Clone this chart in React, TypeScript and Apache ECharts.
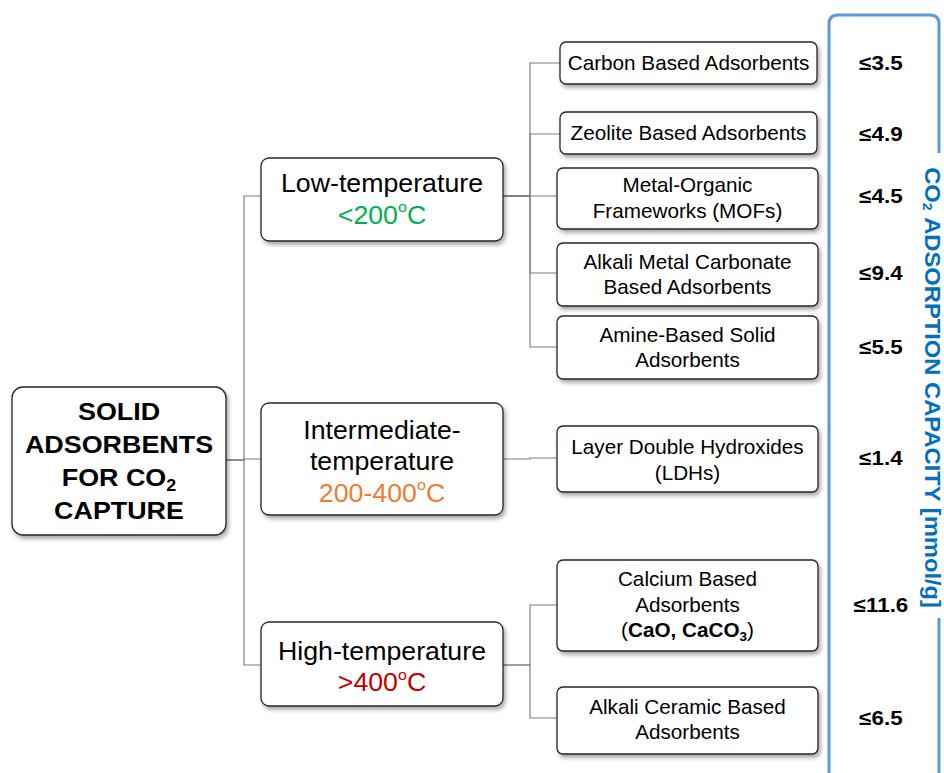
import React, { useEffect, useRef } from 'react';
import * as echarts from 'echarts';

// ---------------- data ----------------
const rootLabel = 'SOLID\nADSORBENTS\nFOR CO₂\nCAPTURE';
const temperatureClasses = ['Low-temperature', 'Intermediate-\ntemperature', 'High-temperature'];
const temperatureRanges = ['<200ºC', '200-400ºC', '>400ºC'];
const rangeColors = ['#00B050', '#ED7D31', '#C00000'];
const adsorbentTypes = [
  'Carbon Based Adsorbents',
  'Zeolite Based Adsorbents',
  'Metal-Organic\nFrameworks (MOFs)',
  'Alkali Metal Carbonate\nBased Adsorbents',
  'Amine-Based Solid\nAdsorbents',
  'Layer Double Hydroxides\n(LDHs)',
  'Calcium Based\nAdsorbents\n(*CaO, CaCO₃*)',
  'Alkali Ceramic Based\nAdsorbents',
];
const adsorbentClass = [0, 0, 0, 0, 0, 1, 2, 2];
const capacityMax = [3.5, 4.9, 4.5, 9.4, 5.5, 1.4, 11.6, 6.5];
const capacityTitle = 'CO₂ ADSORPTION CAPACITY [mmol/g]';

// ---------------- layout ----------------
const W = 944;
const H = 773;
const FONT = '"Liberation Sans", Arial, sans-serif';
const rootBox = [12, 387, 214, 148];
const rootAnchorY = 460;
const rootTextY = 461;
const classBoxes = [
  [261, 158, 242, 83],
  [261, 403, 242, 112],
  [261, 622, 242, 84],
];
const classAnchorY = [196, 459, 665];
const classTextY = [199.5, 461.5, 667];
const typeBoxes = [
  [560, 42, 257, 42],
  [560, 112, 257, 42],
  [557, 168, 261, 61],
  [557, 243, 261, 63],
  [557, 316, 261, 63],
  [557, 426, 261, 66],
  [557, 560, 261, 91],
  [557, 687, 261, 67],
];
const typeAnchorY = [63, 134, 196, 273, 347, 458, 605, 718];
const typeTextY = [63, 133, 198, 274.5, 347.5, 460, 605, 719.5];
const rootBusX = 244;
const classBusX = 530;
const valueX = 881;

// ---------------- helpers ----------------
function richify(line: string, p: string): string {
  let out = '';
  let bold = false;
  let cur = '';
  let curKey = '';
  const flush = () => {
    if (cur) out += `{${curKey}|${cur}}`;
    cur = '';
  };
  for (const ch of Array.from(line)) {
    if (ch === '*') {
      flush();
      bold = !bold;
      continue;
    }
    let key: string;
    let c = ch;
    if (ch === '₂' || ch === '₃') {
      key = bold ? 'bs' : 's';
      c = ch === '₂' ? '2' : '3';
    } else if (ch === 'º') {
      key = 'p';
      c = 'o';
    } else {
      key = bold ? 'b' : 'n';
    }
    key = p + key;
    if (key !== curKey) {
      flush();
      curKey = key;
    }
    cur += c;
  }
  flush();
  return out;
}

function richText(text: string, p: string): string {
  return text.split('\n').map((l) => richify(l, p)).join('\n');
}

function richSet(
  p: string,
  o: { size: number; lh: number; color: string; weight: string; subSize: number; subLH: number; supSize: number; supLH: number }
) {
  const base = { fontFamily: FONT, fill: o.color, color: o.color, fontSize: o.size, lineHeight: o.lh, fontWeight: o.weight };
  return {
    [p + 'n']: { ...base },
    [p + 'b']: { ...base, fontWeight: 'bold' },
    [p + 's']: { ...base, fontSize: o.subSize, lineHeight: o.subLH, verticalAlign: 'bottom' },
    [p + 'bs']: { ...base, fontWeight: 'bold', fontSize: o.subSize, lineHeight: o.subLH, verticalAlign: 'bottom' },
    [p + 'p']: { ...base, fontSize: o.supSize, lineHeight: o.supLH, verticalAlign: 'top' },
  };
}

type NodeDef = { box: number[]; r: number; textY: number; text: string; rich: any; sx: number };

const nodes: NodeDef[] = [];
nodes.push({
  box: rootBox,
  r: 11,
  textY: rootTextY,
  text: richText(rootLabel, 'r'),
  rich: richSet('r', { size: 24, lh: 33, color: '#000', weight: 'bold', subSize: 16, subLH: 16, supSize: 14, supLH: 14 }),
  sx: 1.12,
});
temperatureClasses.forEach((name, i) => {
  nodes.push({
    box: classBoxes[i],
    r: 8,
    textY: classTextY[i],
    text: richText(name, 'a') + '\n' + richText(temperatureRanges[i], 'c'),
    rich: {
      ...richSet('a', { size: 25, lh: 31.5, color: '#000', weight: 'normal', subSize: 15, subLH: 15, supSize: 15, supLH: 21 }),
      ...richSet('c', { size: 25, lh: 31.5, color: rangeColors[i], weight: 'normal', subSize: 15, subLH: 15, supSize: 15, supLH: 21 }),
    },
    sx: 1.07,
  });
});
adsorbentTypes.forEach((name, j) => {
  nodes.push({
    box: typeBoxes[j],
    r: 6,
    textY: typeTextY[j],
    text: richText(name, 't'),
    rich: richSet('t', { size: 20, lh: 25.5, color: '#000', weight: 'normal', subSize: 13, subLH: 11, supSize: 13, supLH: 16 }),
    sx: 1.035,
  });
});

// edges: [parentNodeIndex, childNodeIndex]
const edges: number[][] = [];
temperatureClasses.forEach((_, i) => edges.push([0, 1 + i]));
adsorbentClass.forEach((c, j) => edges.push([1 + c, 4 + j]));

function anchorOf(idx: number): number {
  if (idx === 0) return rootAnchorY;
  if (idx <= 3) return classAnchorY[idx - 1];
  return typeAnchorY[idx - 4];
}

const App: React.FC = () => {
  const ref = useRef<HTMLDivElement>(null);

  useEffect(() => {
    document.body.style.margin = '0';
    if (!ref.current) return;
    const chart = echarts.init(ref.current, undefined, { renderer: 'svg' });

    echarts.graphic.registerShape(
      'capBracket',
      echarts.graphic.extendPath(
        'M829 773 L829 24 Q829 15 838 15 L930 15 Q939 15 939 24 L939 153 M939 618 L939 773',
        {}
      )
    );

    const option: any = {
      animation: false,
      grid: { left: 0, right: 0, top: 0, bottom: 0 },
      xAxis: { type: 'value', min: 0, max: W, show: false },
      yAxis: { type: 'value', min: 0, max: H, inverse: true, show: false },
      series: [
        {
          type: 'custom',
          name: 'connectors',
          coordinateSystem: 'cartesian2d',
          silent: true,
          data: edges.map((e) => [e[0], e[1]]),
          renderItem: (params: any, api: any) => {
            const [pi, ci] = edges[params.dataIndex];
            const pb = nodes[pi].box;
            const cb = nodes[ci].box;
            const busX = pi === 0 ? rootBusX : classBusX;
            const py = anchorOf(pi);
            const cy = anchorOf(ci);
            const pts = [
              api.coord([pb[0] + pb[2], py]),
              api.coord([busX, py]),
              api.coord([busX, cy]),
              api.coord([cb[0], cy]),
            ];
            return {
              type: 'polyline',
              shape: { points: pts },
              style: { stroke: '#7F7F7F', lineWidth: 1.2, fill: null },
            };
          },
        },
        {
          type: 'custom',
          name: 'boxes',
          coordinateSystem: 'cartesian2d',
          silent: true,
          data: nodes.map((_, i) => [i, i]),
          renderItem: (params: any, api: any) => {
            const n = nodes[params.dataIndex];
            const [x, y, w, h] = n.box;
            const p0 = api.coord([x, y]);
            const p1 = api.coord([x + w, y + h]);
            const tc = api.coord([x + w / 2, n.textY]);
            return {
              type: 'group',
              children: [
                {
                  type: 'rect',
                  shape: { x: p0[0], y: p0[1], width: p1[0] - p0[0], height: p1[1] - p0[1], r: n.r },
                  style: {
                    fill: '#fff',
                    stroke: '#262626',
                    lineWidth: 1.3,
                    shadowBlur: 4,
                    shadowOffsetX: 2,
                    shadowOffsetY: 3,
                    shadowColor: 'rgba(0,0,0,0.35)',
                  },
                },
                {
                  type: 'text',
                  x: tc[0],
                  y: tc[1],
                  scaleX: n.sx,
                  style: { text: n.text, rich: n.rich, align: 'center', verticalAlign: 'middle' },
                },
              ],
            };
          },
        },
        {
          type: 'custom',
          name: 'capacity',
          coordinateSystem: 'cartesian2d',
          silent: true,
          data: capacityMax.map((v, j) => [valueX, typeAnchorY[j], v]),
          renderItem: (params: any, api: any) => {
            const p = api.coord([api.value(0), api.value(1)]);
            const v = api.value(2);
            return {
              type: 'text',
              x: p[0],
              y: p[1],
              scaleX: 1.12,
              style: {
                text: '≤' + Number(v).toFixed(1),
                fontFamily: FONT,
                fontSize: 20,
                fontWeight: 'bold',
                fill: '#000',
                align: 'center',
                verticalAlign: 'middle',
              },
            };
          },
        },
      ],
      graphic: [
        {
          type: 'capBracket',
          x: 0,
          y: 0,
          silent: true,
          style: { stroke: '#5B9BD5', lineWidth: 3, fill: 'none' },
        },
        {
          type: 'text',
          x: 932.5,
          y: 388,
          rotation: -Math.PI / 2,
          scaleX: 1.08,
          silent: true,
          style: {
            text: richText(capacityTitle, 'v'),
            rich: richSet('v', { size: 22, lh: 24, color: '#0070C0', weight: 'bold', subSize: 13, subLH: 12, supSize: 13, supLH: 13 }),
            align: 'center',
            verticalAlign: 'middle',
          },
        },
      ],
    };

    chart.setOption(option);
    return () => {
      chart.dispose();
    };
  }, []);

  return <div ref={ref} style={{ width: W, height: H }} />;
};

export default App;
